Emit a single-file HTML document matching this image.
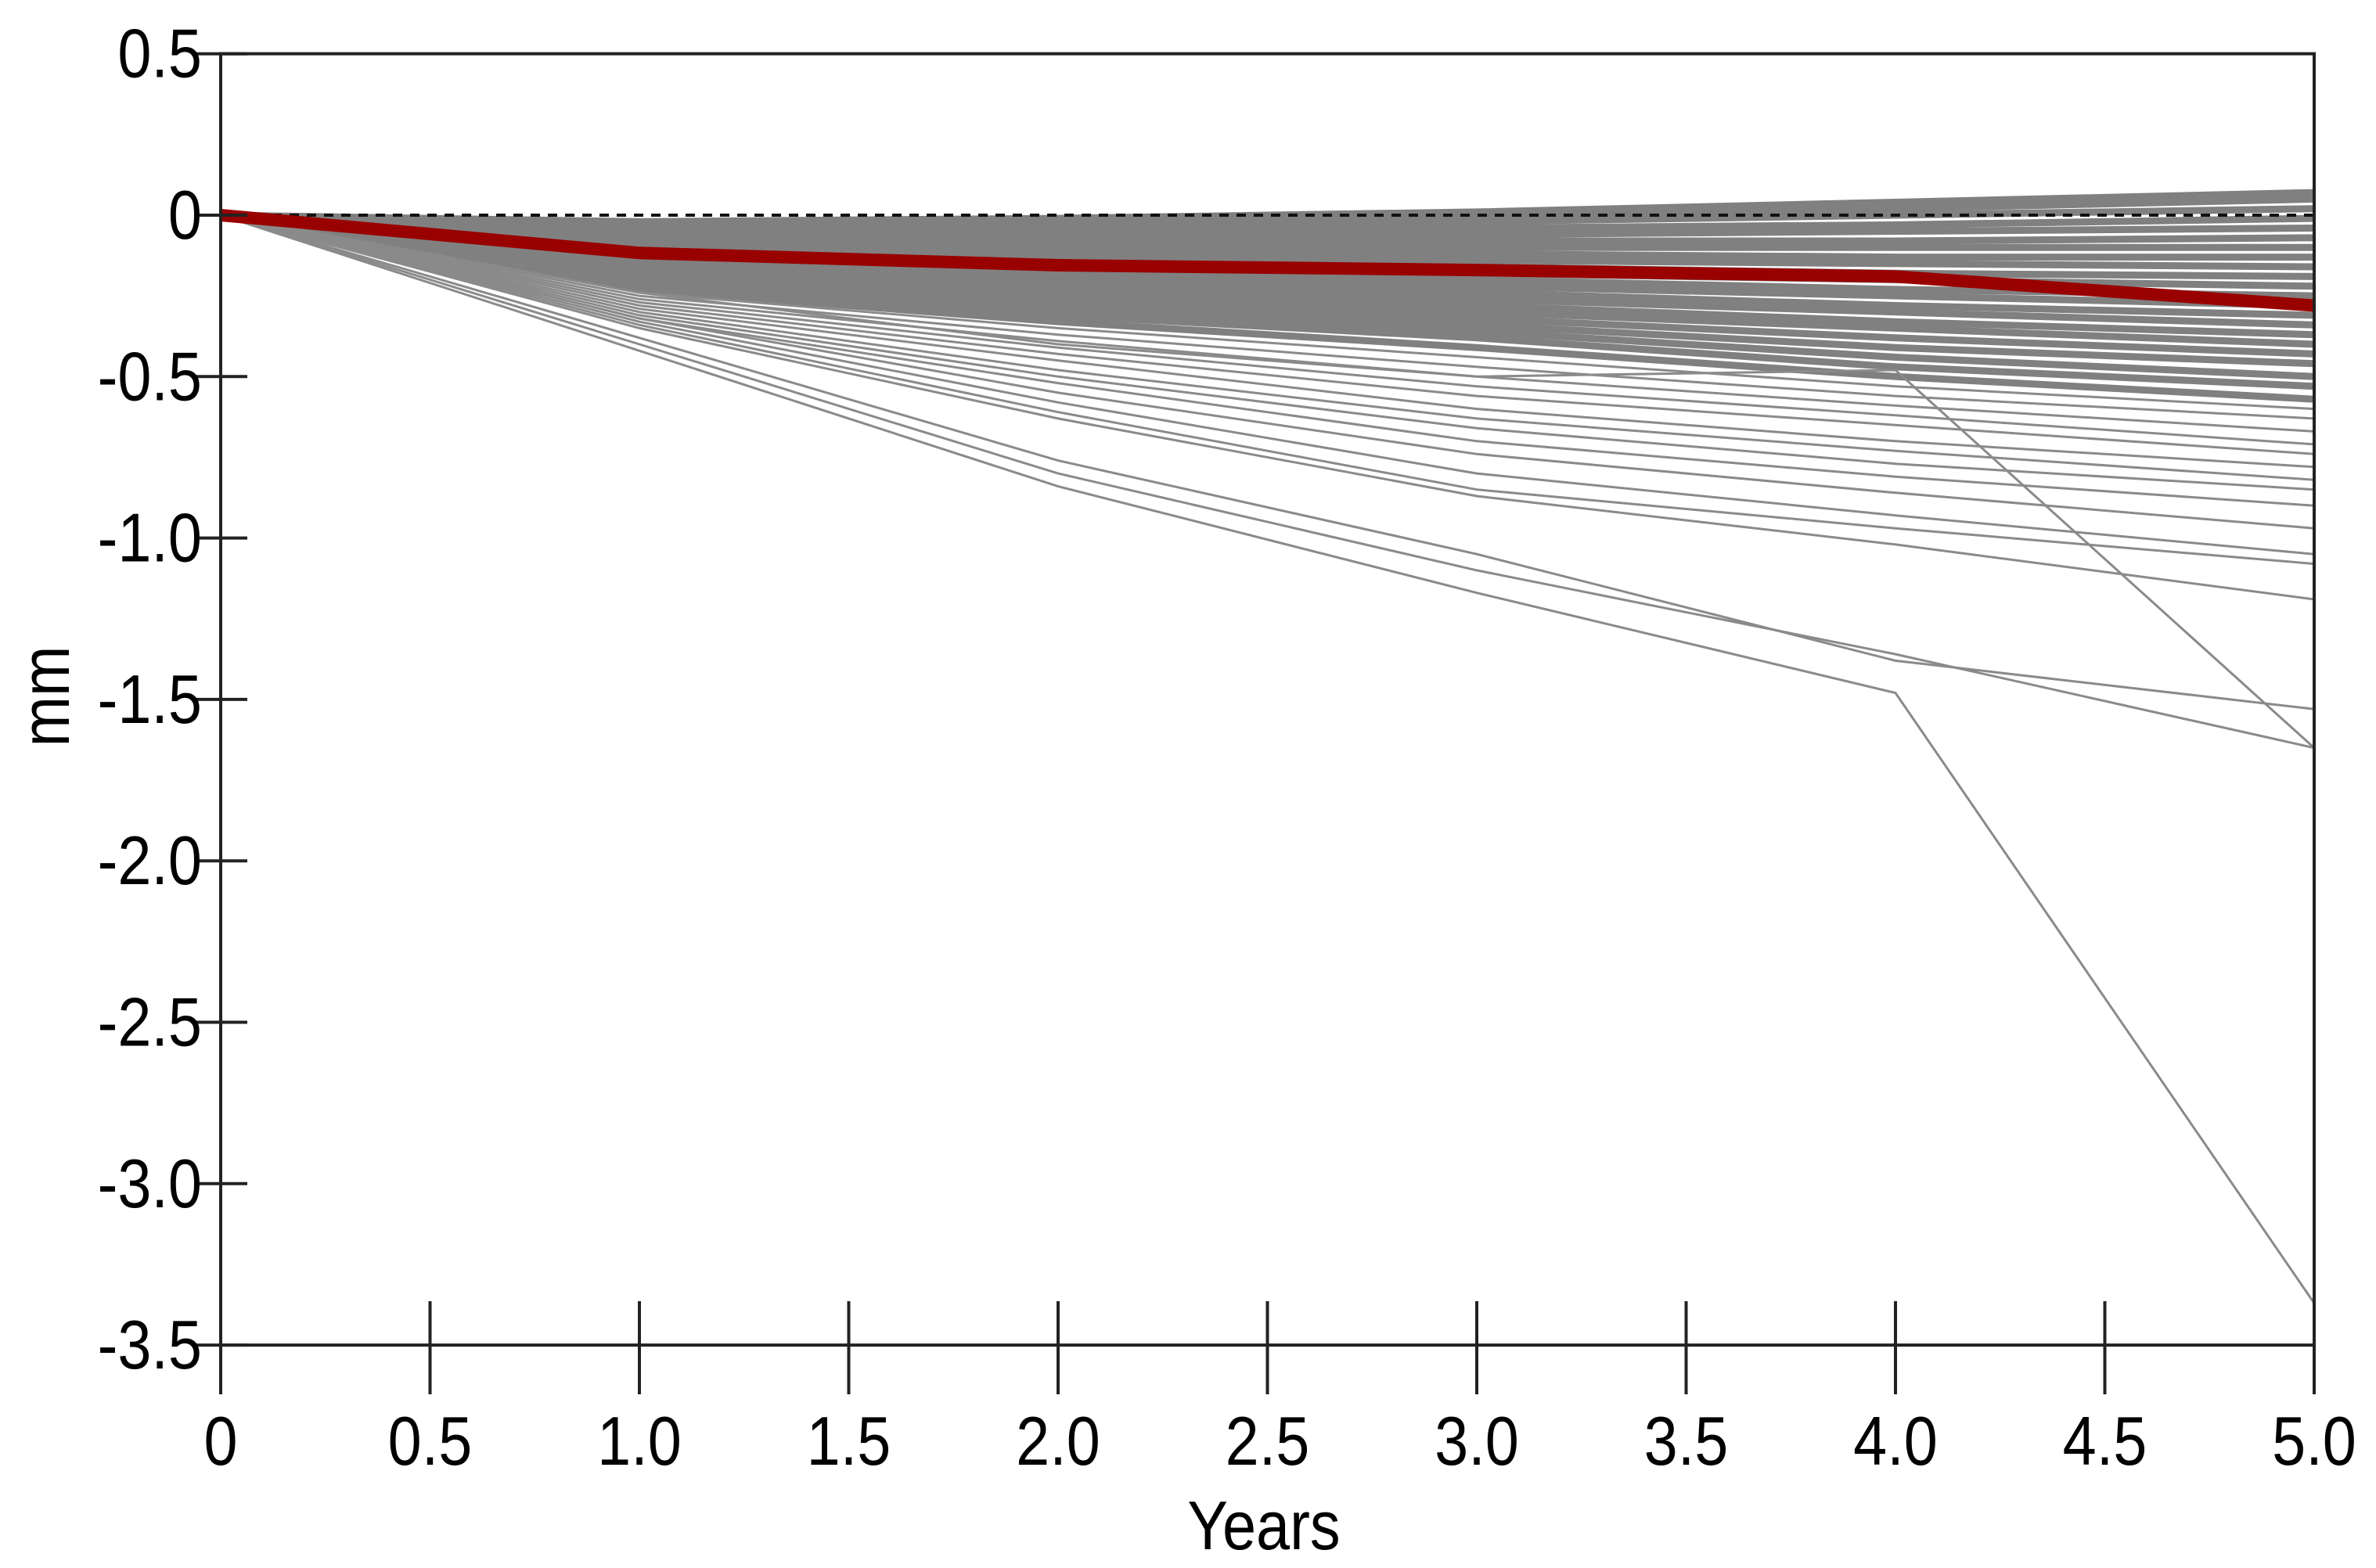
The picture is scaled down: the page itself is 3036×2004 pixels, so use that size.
<!DOCTYPE html>
<html><head><meta charset="utf-8"><style>
html,body{margin:0;padding:0;background:#fff;}
svg{display:block;font-family:"Liberation Sans",Arial,sans-serif;}
</style></head><body>
<svg id="chart" width="3036" height="2004" viewBox="0 0 3036 2004" xmlns="http://www.w3.org/2000/svg">
<g id="series"></g>
<g id="axes"></g>
</svg>
<script>
const years = [0, 1, 2, 3, 4, 5];
const xTicks = [0, 0.5, 1, 1.5, 2, 2.5, 3, 3.5, 4, 4.5, 5];
const xTickLabels = ["0", "0.5", "1.0", "1.5", "2.0", "2.5", "3.0", "3.5", "4.0", "4.5", "5.0"];
const yTicks = [0.5, 0, -0.5, -1, -1.5, -2, -2.5, -3, -3.5];
const yTickLabels = ["0.5", "0", "-0.5", "-1.0", "-1.5", "-2.0", "-2.5", "-3.0", "-3.5"];
const bandSeries = [
 [0,-0.02,-0.01,0.01,0.04,0.07],
 [0,-0.03,-0.02,0.00,0.02,0.05],
 [0,-0.04,-0.04,-0.02,0.00,0.02],
 [0,-0.05,-0.05,-0.04,-0.03,-0.01],
 [0,-0.06,-0.07,-0.06,-0.05,-0.04],
 [0,-0.07,-0.08,-0.08,-0.08,-0.07],
 [0,-0.08,-0.10,-0.10,-0.10,-0.10],
 [0,-0.09,-0.11,-0.12,-0.13,-0.13],
 [0,-0.10,-0.12,-0.14,-0.15,-0.16],
 [0,-0.11,-0.14,-0.16,-0.18,-0.19],
 [0,-0.12,-0.15,-0.18,-0.20,-0.22],
 [0,-0.13,-0.17,-0.20,-0.23,-0.25],
 [0,-0.14,-0.18,-0.22,-0.25,-0.28],
 [0,-0.15,-0.20,-0.24,-0.28,-0.31],
 [0,-0.16,-0.21,-0.26,-0.30,-0.34],
 [0,-0.17,-0.23,-0.28,-0.33,-0.37],
 [0,-0.18,-0.24,-0.30,-0.35,-0.40],
 [0,-0.19,-0.26,-0.32,-0.38,-0.43],
 [0,-0.20,-0.28,-0.34,-0.41,-0.46],
 [0,-0.21,-0.30,-0.36,-0.44,-0.50],
 [0,-0.22,-0.31,-0.38,-0.47,-0.53],
 [0,-0.23,-0.33,-0.41,-0.50,-0.57]
];
const thinSeries = [
 [0,-0.24,-0.35,-0.44,-0.53,-0.60],
 [0,-0.25,-0.37,-0.47,-0.56,-0.63],
 [0,-0.26,-0.39,-0.50,-0.59,-0.67],
 [0,-0.27,-0.41,-0.53,-0.62,-0.71],
 [0,-0.28,-0.43,-0.56,-0.65,-0.74],
 [0,-0.29,-0.45,-0.60,-0.70,-0.78],
 [0,-0.30,-0.48,-0.63,-0.73,-0.82],
 [0,-0.31,-0.50,-0.66,-0.77,-0.85],
 [0,-0.32,-0.52,-0.70,-0.81,-0.90],
 [0,-0.32,-0.55,-0.74,-0.86,-0.97],
 [0,-0.33,-0.58,-0.80,-0.93,-1.05],
 [0,-0.34,-0.61,-0.85,-0.97,-1.08],
 [0,-0.35,-0.63,-0.87,-1.02,-1.19],
 [0,-0.38,-0.76,-1.05,-1.38,-1.53],
 [0,-0.40,-0.80,-1.10,-1.36,-1.65],
 [0,-0.42,-0.84,-1.17,-1.48,-3.37],
 [0,-0.24,-0.40,-0.50,-0.48,-1.65]
];
const meanSeries = [0,-0.117,-0.155,-0.17,-0.19,-0.28];

const X0 = 282, X1 = 2957, Y0 = 275, PER = 412.6;
function xs(v){ return X0 + (X1 - X0) * v / 5; }
function ys(v){ return Y0 - v * PER; }
const NS = "http://www.w3.org/2000/svg";
function mk(tag, attrs, parent){ const e = document.createElementNS(NS, tag); for (const k in attrs) e.setAttribute(k, attrs[k]); parent.appendChild(e); return e; }
function pts(s){ return s.map((v,i)=> xs(years[i]).toFixed(1)+","+ys(v).toFixed(1)).join(" "); }

const sg = document.getElementById("series");
bandSeries.forEach(s => {
  const p = mk("polyline", {points: pts(s), fill: "none", stroke: "#808080", "stroke-width": 9}, sg);
  
  
});
thinSeries.forEach(s => {
  const p = mk("polyline", {points: pts(s), fill: "none", stroke: "#8a8a8a", "stroke-width": 3}, sg);
  
  
});
const zl = mk("line", {x1: X0, x2: X1, y1: ys(0), y2: ys(0), stroke: "#111", "stroke-width": 4, "stroke-dasharray": "12 10"}, sg);


const mean = mk("polyline", {points: pts(meanSeries), fill: "none", stroke: "#990000", "stroke-width": 16}, sg);



const ag = document.getElementById("axes");
const frame = mk("rect", {x: X0, y: ys(0.5), width: X1 - X0, height: ys(-3.5) - ys(0.5), fill: "none", stroke: "#222", "stroke-width": 4}, ag);


yTicks.forEach((v,i) => {
  const t = mk("line", {x1: X0 - 32, x2: X0 + 34, y1: ys(v), y2: ys(v), stroke: "#222", "stroke-width": 4}, ag);
  
  
  const l = mk("text", {x: 0, y: 0, "text-anchor": "end", "font-size": 88, fill: "#000", transform: "translate(258," + (ys(v) + 30) + ") scale(0.88,1)"}, ag);
  l.textContent = yTickLabels[i];
  
  
});
xTicks.forEach((v,i) => {
  const t = mk("line", {x1: xs(v), x2: xs(v), y1: 1663, y2: 1782, stroke: "#222", "stroke-width": 4}, ag);
  
  
  const l = mk("text", {x: 0, y: 0, "text-anchor": "middle", "font-size": 88, fill: "#000", transform: "translate(" + xs(v) + ",1872) scale(0.88,1)"}, ag);
  l.textContent = xTickLabels[i];
  
  
});
const xt = mk("text", {x: 0, y: 0, "text-anchor": "middle", "font-size": 88, fill: "#000", transform: "translate(1615,1980) scale(0.88,1)"}, ag);
xt.textContent = "Years";


const yt = mk("text", {x: 0, y: 0, "text-anchor": "middle", "font-size": 88, fill: "#000", transform: "translate(88,890) rotate(-90) scale(0.88,1)"}, ag);
yt.textContent = "mm";


</script>
</body></html>
